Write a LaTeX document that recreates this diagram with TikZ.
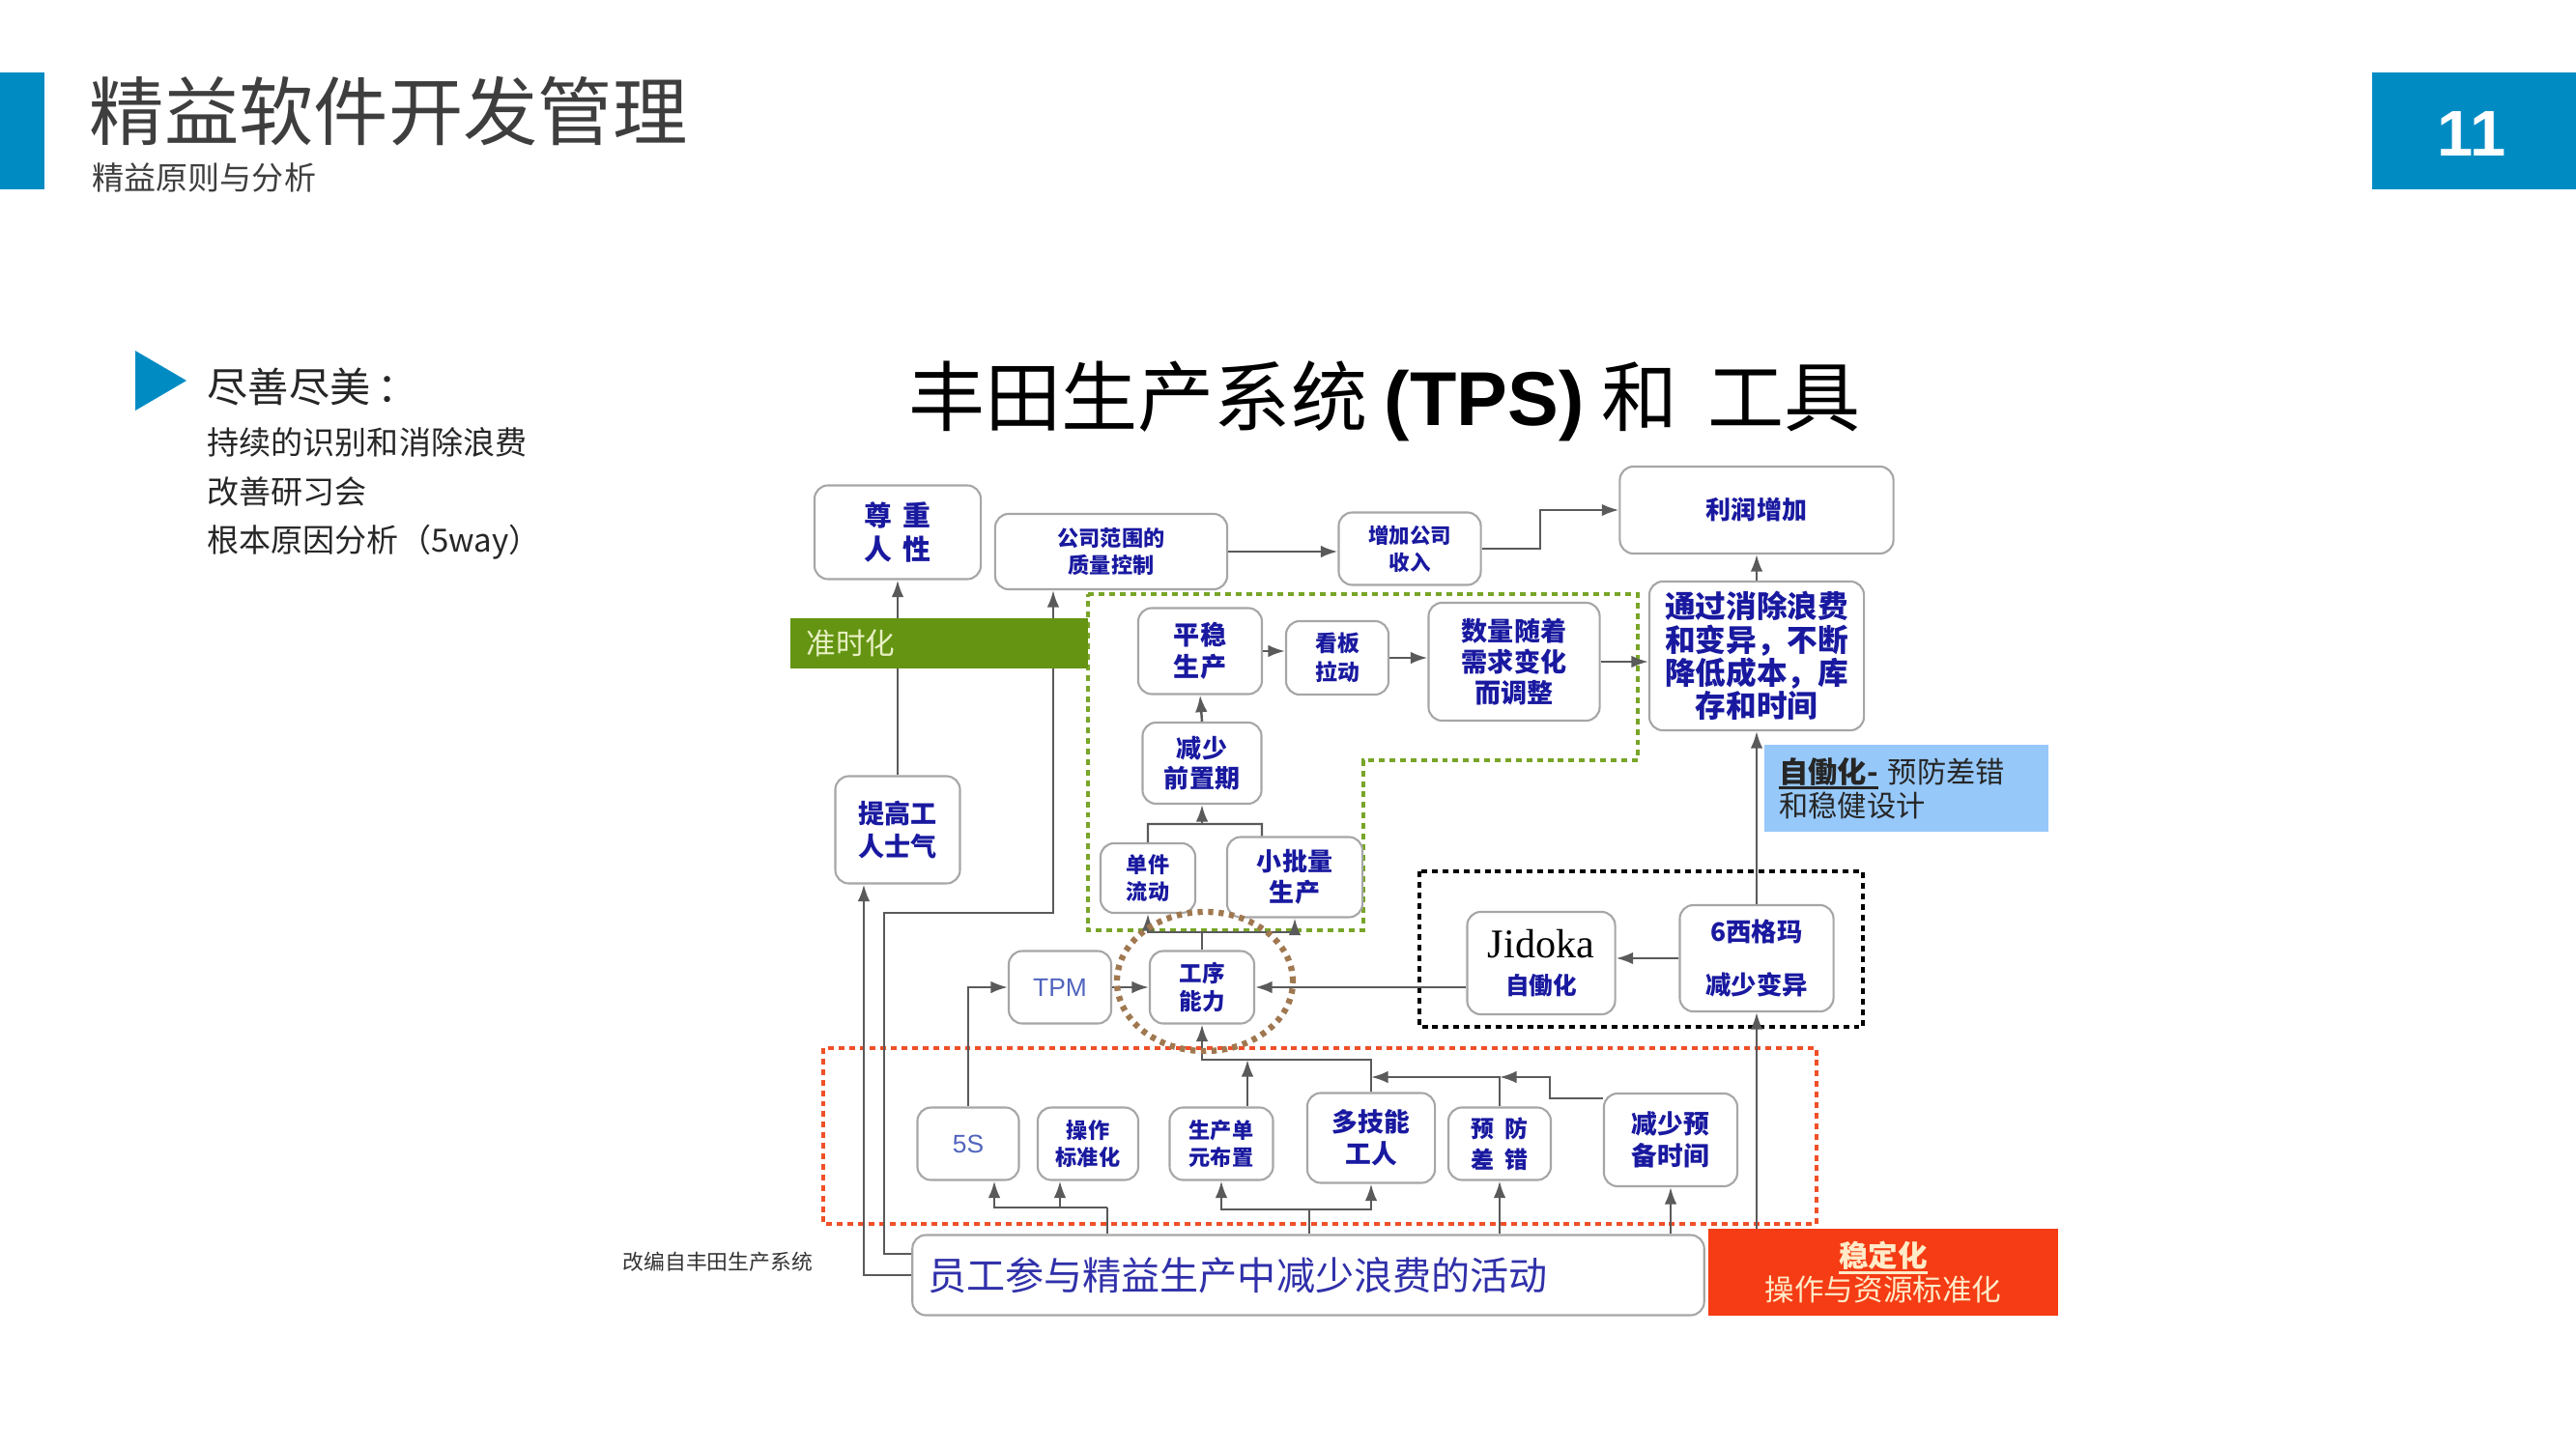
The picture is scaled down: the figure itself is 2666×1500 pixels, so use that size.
\documentclass[tikz,border=0pt]{standalone}
\usepackage{fontspec}
\setmainfont{Noto Sans CJK SC}
\newfontfamily\serifen{Liberation Serif}
\newfontfamily\arialf{Liberation Sans}
\usetikzlibrary{arrows.meta}
\definecolor{hdblue}{RGB}{0,140,195}
\definecolor{hdgray}{RGB}{62,62,62}
\definecolor{boxblue}{RGB}{25,25,160}
\definecolor{tpmblue}{RGB}{80,100,190}
\definecolor{jitgreen}{RGB}{100,148,18}
\definecolor{jittext}{RGB}{232,240,195}
\definecolor{dotgreen}{RGB}{120,165,40}
\definecolor{dotred}{RGB}{240,80,40}
\definecolor{dotbrown}{RGB}{160,120,80}
\definecolor{jidblue}{RGB}{150,200,250}
\definecolor{stabred}{RGB}{245,60,20}
\definecolor{stabtext}{RGB}{255,235,200}
\definecolor{linegray}{RGB}{90,90,90}
\newcommand{\thickul}[1]{\setbox0\hbox{#1}\rlap{\rule[-2pt]{\wd0}{0.8pt}}\box0\relax}
\begin{document}
\begin{tikzpicture}[x=0.01cm,y=-0.01cm,
  box/.style 2 args={draw=gray!70,line width=0.6pt,rounded corners=4pt,fill=white,
    align=center,text=boxblue,inner sep=1pt,font=\bfseries\fontsize{#1}{#2}\selectfont},
  conn/.style={draw=linegray,line width=0.7pt},
  arr/.style={conn,-{Latex[length=5pt,width=3.6pt]}},
  dotbox/.style={line width=1.4pt,dash pattern=on 1.7pt off 1.4pt}]
\useasboundingbox (0,0) rectangle (2666,1500);

% header
\fill[hdblue] (0,75) rectangle (46,196);
\node[anchor=west,inner sep=0,text=hdgray,font=\fontsize{22}{26}\selectfont] (title) at (92,115) {精益软件开发管理};
\node[anchor=west,inner sep=0,text=hdgray,font=\fontsize{9.4}{11}\selectfont] (sub) at (95,184) {精益原则与分析};
\fill[hdblue] (2455,75) rectangle (2666,196);
\node[text=white,font=\arialf\bfseries\fontsize{19}{22}\selectfont] (pg) at (2558,139) {11};

% left text
\fill[hdblue] (140,363) -- (193,394) -- (140,425) -- cycle;
\node[anchor=west,inner sep=0,text=black!85,font=\fontsize{12}{14}\selectfont] (jsjm) at (214,400) {尽善尽美\,：};
\node[anchor=west,inner sep=0,text=black!85,font=\fontsize{9.4}{11}\selectfont] (l1) at (214,458) {持续的识别和消除浪费};
\node[anchor=west,inner sep=0,text=black!85,font=\fontsize{9.4}{11}\selectfont] (l2) at (214,509) {改善研习会};
\node[anchor=west,inner sep=0,text=black!85,font=\fontsize{9.4}{11}\selectfont] (l3) at (214,561) {根本原因分析（5way）};

\node[font=\fontsize{22.5}{26}\selectfont] (tps) at (1433,415) {丰田生产系统 {\arialf\bfseries(TPS)} 和\, 工具};

% dotted frames
\draw[dotgreen,dotbox] (1126,615) -- (1695,615) -- (1695,787) -- (1411,787) -- (1411,963) -- (1126,963) -- cycle;
\draw[black,dotbox] (1469,902) rectangle (1928,1063);
\draw[dotred,dotbox] (852,1085) rectangle (1880,1267);

% boxes
\node[box={8.2}{10},minimum width=1.72cm,minimum height=0.97cm] (zr) at (929,551) {尊\hspace{0.4em}重\\人\hspace{0.4em}性};
\node[box={6.3}{8},minimum width=2.4cm,minimum height=0.78cm] (zl) at (1150,571) {公司范围的\\质量控制};
\node[box={6.1}{8},minimum width=1.47cm,minimum height=0.75cm] (zj) at (1459,568) {增加公司\\收入};
\node[box={7.4}{9},minimum width=2.83cm,minimum height=0.9cm] (lr) at (1818,528) {利润增加};
\node[box={7.7}{9.5},minimum width=1.29cm,minimum height=1.11cm] (ts) at (929,859) {提高工\\人士气};
\node[box={7.7}{9.5},minimum width=1.28cm,minimum height=0.89cm] (pw) at (1242,674) {平稳\\生产};
\node[box={6.5}{8.5},minimum width=1.06cm,minimum height=0.76cm] (kb) at (1384,681) {看板\\拉动};
\node[box={7.7}{9},minimum width=1.77cm,minimum height=1.22cm] (sl) at (1567,685) {数量随着\\需求变化\\而调整};
\node[box={9}{9.8},minimum width=2.22cm,minimum height=1.54cm] (tg) at (1818,679) {通过消除浪费\\和变异，不断\\降低成本，库\\存和时间};
\node[box={7.4}{9},minimum width=1.23cm,minimum height=0.84cm] (jq) at (1244,790) {减少\\前置期};
\node[box={6.3}{8},minimum width=0.98cm,minimum height=0.72cm] (dj) at (1188,909) {单件\\流动};
\node[box={7.4}{9},minimum width=1.4cm,minimum height=0.83cm] (xp) at (1340,908) {小批量\\生产};
\node[box={6.7}{8},minimum width=1.08cm,minimum height=0.75cm] (gx) at (1244,1022) {工序\\能力};
\node[box={7.5}{9},minimum width=1.06cm,minimum height=0.75cm,text=tpmblue,font=\arialf\fontsize{7.5}{9}\selectfont] (tpm) at (1097,1022) {TPM};
\node[box={7}{11},minimum width=1.53cm,minimum height=1.06cm] (jd) at (1595,997) {{\serifen\mdseries\color{black}\fontsize{12}{13}\selectfont Jidoka}\\自働化};
\node[box={7.5}{9},minimum width=1.59cm,minimum height=1.1cm] (sg) at (1818,992) {6西格玛\\[6.5pt]减少变异};
\node[fill=jidblue,minimum width=2.93cm,minimum height=0.9cm,text width=2.63cm,align=left,inner xsep=0.15cm,
  text=black!85,font=\fontsize{8.6}{10}\selectfont] (zd) at (1973,816) {\thickul{\textbf{自働化-}} 预防差错\\和稳健设计};

\node[box={7.5}{9},minimum width=1.05cm,minimum height=0.75cm,text=tpmblue,font=\arialf\fontsize{7.5}{9}\selectfont] (s5) at (1002,1184) {5S};
\node[box={6.3}{8},minimum width=1.04cm,minimum height=0.75cm] (cz) at (1126,1184) {操作\\标准化};
\node[box={6.3}{8},minimum width=1.07cm,minimum height=0.75cm] (sc) at (1264,1184) {生产单\\元布置};
\node[box={7.6}{9.5},minimum width=1.32cm,minimum height=0.93cm] (dn) at (1419,1178) {多技能\\工人};
\node[box={6.8}{9},minimum width=1.06cm,minimum height=0.75cm] (yf) at (1552,1184) {预\hspace{0.5em}防\\差\hspace{0.5em}错};
\node[box={7.6}{9.5},minimum width=1.38cm,minimum height=0.96cm] (jb) at (1729,1180) {减少预\\备时间};
\node[box={11.4}{13},minimum width=8.19cm,minimum height=0.83cm,text width=7.87cm,align=left,inner xsep=0.16cm,
  font=\fontsize{11.4}{13}\selectfont,text=boxblue!90!white] (yg) at (1354,1320) {员工参与精益生产中减少浪费的活动};
\node[fill=stabred,minimum width=3.62cm,minimum height=0.89cm,align=center,text=stabtext,
  font=\fontsize{8.7}{9.7}\selectfont] (wd) at (1949,1317) {\thickul{\textbf{稳定化}}\\操作与资源标准化};

% connectors
\draw[arr] (ts.north) -- (zr.south);
\draw[arr] (yg.west) -| ([xshift=-0.35cm]ts.south);
\draw[arr] ([yshift=0.22cm]yg.west) -| (915,945) -| ([xshift=-0.6cm]zl.south);
\draw[arr] (zl.east) -- (zl.east -| zj.west);
\draw[arr] (zj.east) -- (1594,568) |- (lr.west);
\draw[arr] (tg.north) -- (lr.south);
\draw[arr] (pw.east) -- (pw.east -| kb.west);
\draw[arr] (kb.east) -- (kb.east -| sl.west);
\draw[arr] (sl.east) -- (sl.east -| tg.west);
\draw[arr] (jq.north) -- (pw.south);
\coordinate (jqin) at (1244,853);
\draw[conn] (dj.north) -- (1188,853) -- (1306,853) -- ([xshift=-0.34cm]xp.north);
\draw[arr] (jqin) -- (jq.south);
\coordinate (gxup) at (1244,965);
\draw[conn] (gx.north) -- (gxup);
\draw[arr] (gxup) -| (dj.south);
\draw[arr] (gxup) -| (xp.south);
\draw[arr] (tpm.east) -- (gx.west);
\draw[arr] (s5.north) |- (tpm.west);
\draw[arr] (jd.west |- gx.east) -- (gx.east);
\draw[arr] (sg.west) -- (sg.west -| jd.east);
\draw[arr] (sg.north) -- (tg.south);
\draw[arr] (sg.south |- wd.north) -- (sg.south);

\coordinate (dnup) at (1419,1097);
\draw[arr] (dn.north) -- (dnup) -| (gx.south);
\draw[arr] ([xshift=0.27cm]sc.north) -- ([xshift=0.27cm]sc.north |- dnup);
\coordinate (yfup) at (1552,1115);
\draw[arr] (yf.north) -- (yfup) -- (yfup -| dn.north);
\draw[arr] ([yshift=0.43cm]jb.west) -| (1604,1115) -- (yfup);
\coordinate (bl1) at (1146,1250);
\draw[conn] (bl1 |- yg.north) -- (bl1);
\draw[arr] (bl1) -| ([xshift=0.27cm]s5.south);
\draw[arr] ([xshift=-0.29cm]cz.south |- bl1) -- ([xshift=-0.29cm]cz.south);
\coordinate (bl2) at (1355,1252);
\draw[conn] (bl2 |- yg.north) -- (bl2);
\draw[arr] (bl2) -| (sc.south);
\draw[arr] (bl2) -| (dn.south);
\draw[arr] (yf.south |- yg.north) -- (yf.south);
\draw[arr] (jb.south |- yg.north) -- (jb.south);

% band and circle
\node[fill=jitgreen,minimum width=3.07cm,minimum height=0.51cm,text width=2.75cm,inner xsep=0.16cm,align=left,
  text=jittext,font=\fontsize{8.7}{10}\selectfont] (jit) at (972,666) {准时化};
\draw[dotbrown,line width=1.8pt,dash pattern=on 1.5pt off 1.6pt] (1247,1016) ellipse [x radius=0.91cm,y radius=0.72cm];

\node[anchor=west,inner sep=0,text=black!80,font=\fontsize{6.2}{7}\selectfont] (src) at (644,1306) {改编自丰田生产系统};
\end{tikzpicture}
\end{document}
